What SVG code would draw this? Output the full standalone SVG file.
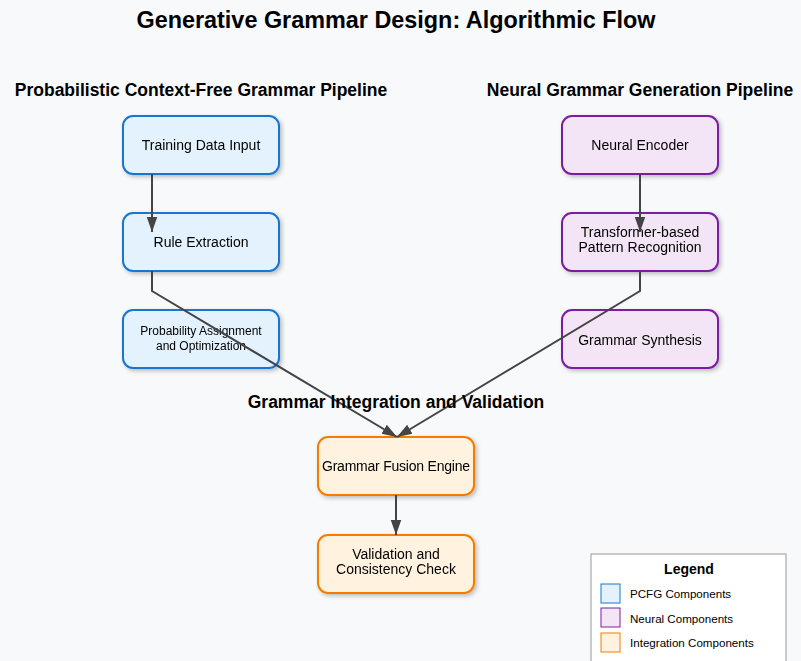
<svg xmlns="http://www.w3.org/2000/svg" width="801" height="661" viewBox="0 0 801 661">
<style>
text{font-family:"Liberation Sans",Arial,sans-serif;fill:#000}
.title{font-size:23.4px;font-weight:bold}
.sec{font-size:17.5px;font-weight:bold}
.lbl{font-size:14px}
.sm{font-size:12px}
.lg{font-size:11.6px}
.box{stroke-width:2}
.pcfg{fill:#e3f2fd;stroke:#1976d2}
.neu{fill:#f3e5f5;stroke:#7b1fa2}
.int{fill:#fff3e0;stroke:#f57c00}
.conn{fill:none;stroke:#444;stroke-width:2}
</style>
<defs>
<filter id="sh" x="-20%" y="-20%" width="140%" height="150%">
<feDropShadow dx="2" dy="2" stdDeviation="2" flood-color="#000" flood-opacity="0.25"/>
</filter>
<marker id="ah" viewBox="0 0 10 10" refX="10" refY="5" markerWidth="15" markerHeight="15" markerUnits="userSpaceOnUse" orient="auto">
<path d="M0,1.5 L10,5 L0,8.5 z" fill="#444"/>
</marker>
</defs>
<rect width="801" height="661" fill="#f8f9fa"/>
<text class="title" x="396" y="28" text-anchor="middle">Generative Grammar Design: Algorithmic Flow</text>
<text class="sec" x="201" y="96" text-anchor="middle">Probabilistic Context-Free Grammar Pipeline</text>
<text class="sec" x="640" y="96" text-anchor="middle">Neural Grammar Generation Pipeline</text>

<g id="n1" filter="url(#sh)"><rect class="box pcfg" x="123" y="116" width="156" height="58" rx="10"/><text class="lbl" x="201" y="150" text-anchor="middle">Training Data Input</text></g>
<g id="n2" filter="url(#sh)"><rect class="box pcfg" x="123" y="213" width="156" height="58" rx="10"/><text class="lbl" x="201" y="247" text-anchor="middle">Rule Extraction</text></g>
<g id="n3" filter="url(#sh)"><rect class="box pcfg" x="123" y="310" width="156" height="58" rx="10"/><text class="sm" x="201" y="335" text-anchor="middle">Probability Assignment</text><text class="sm" x="201" y="350" text-anchor="middle">and Optimization</text></g>

<g id="n4" filter="url(#sh)"><rect class="box neu" x="562" y="116" width="156" height="58" rx="10"/><text class="lbl" x="640" y="150" text-anchor="middle">Neural Encoder</text></g>
<g id="n5" filter="url(#sh)"><rect class="box neu" x="562" y="213" width="156" height="58" rx="10"/><text class="lbl" x="640" y="237" text-anchor="middle">Transformer-based</text><text class="lbl" x="640" y="252" text-anchor="middle">Pattern Recognition</text></g>
<g id="n6" filter="url(#sh)"><rect class="box neu" x="562" y="310" width="156" height="58" rx="10"/><text class="lbl" x="640" y="345" text-anchor="middle">Grammar Synthesis</text></g>

<g id="n7" filter="url(#sh)"><rect class="box int" x="318" y="437" width="156" height="58" rx="10"/><text class="lbl" x="396" y="471" text-anchor="middle" textLength="148">Grammar Fusion Engine</text></g>
<g id="n8" filter="url(#sh)"><rect class="box int" x="318" y="535" width="156" height="58" rx="10"/><text class="lbl" x="396" y="559" text-anchor="middle">Validation and</text><text class="lbl" x="396" y="574" text-anchor="middle">Consistency Check</text></g>

<g id="connectors">
<path class="conn" d="M152,174 L152,232" marker-end="url(#ah)"/>
<path class="conn" d="M640,174 L640,232" marker-end="url(#ah)"/>
<path class="conn" d="M152,271 L152,291 L397,437" marker-end="url(#ah)"/>
<path class="conn" d="M640,271 L640,291 L397,437" marker-end="url(#ah)"/>
<path class="conn" d="M396,495 L396,535" marker-end="url(#ah)"/>
</g>

<text class="sec" x="396" y="408" text-anchor="middle">Grammar Integration and Validation</text>

<g id="legend">
<rect x="591" y="554" width="195" height="110" fill="#fff" stroke="#999" stroke-width="1"/>
<text x="689" y="574" text-anchor="middle" style="font-size:14px;font-weight:bold">Legend</text>
<rect class="pcfg" x="601" y="584" width="19" height="19" stroke-width="1"/>
<text class="lg" x="630" y="598">PCFG Components</text>
<rect class="neu" x="601" y="608" width="19" height="19" stroke-width="1"/>
<text class="lg" x="630" y="623">Neural Components</text>
<rect class="int" x="601" y="633" width="19" height="19" stroke-width="1"/>
<text class="lg" x="630" y="647">Integration Components</text>
</g>
</svg>
